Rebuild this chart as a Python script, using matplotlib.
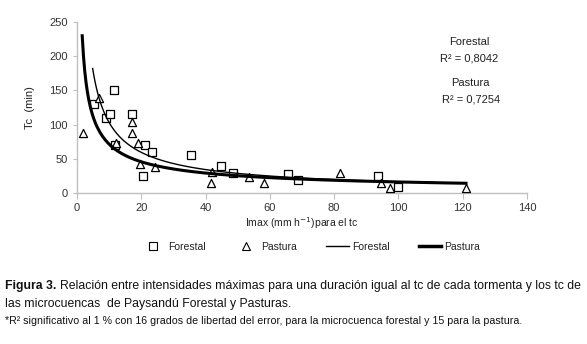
import matplotlib
matplotlib.use("Agg")
import matplotlib.pyplot as plt
from matplotlib import font_manager
from matplotlib.lines import Line2D
import numpy as np

# --- data -------------------------------------------------------------
forestal_imax = [5.3, 9.2, 10.3, 11.6, 12.0, 17.1, 21.3, 23.5, 20.6, 35.6,
                 44.7, 48.6, 65.5, 68.6, 93.5, 99.8]
forestal_tc = [130, 110, 115, 150, 70, 115, 70, 60, 25, 55,
               39, 29, 28, 19, 25, 9]

pastura_imax = [1.8, 6.9, 12.1, 17.1, 17.0, 19.0, 19.6, 24.4, 41.9, 41.6,
                53.6, 58.3, 81.8, 94.6, 97.4, 121.0]
pastura_tc = [88, 139, 73, 104, 88, 73, 42, 38, 31, 14,
              24, 14, 29, 14, 8, 8]

# power trend lines  tc = a * Imax ** b
forestal_fit = (645.0, -0.796)
pastura_fit = (318.0, -0.648)
forestal_range = (4.9, 121.0)
pastura_range = (1.65, 121.0)

r2_forestal = "0,8042"
r2_pastura = "0,7254"

x_ticks = [0, 20, 40, 60, 80, 100, 120, 140]
y_ticks = [0, 50, 100, 150, 200, 250]

caption_bold = "Figura 3."
caption_line1 = "Relación entre intensidades máximas para una duración igual al tc de cada tormenta y los tc de"
caption_line2 = "las microcuencas  de Paysandú Forestal y Pasturas."
footnote = ("*R² significativo al 1 % con 16 grados de libertad del error, "
            "para la microcuenca forestal y 15 para la pastura.")

# --- fonts ------------------------------------------------------------
installed = {f.name for f in font_manager.fontManager.ttflist}
narrow = "Liberation Sans Narrow" if "Liberation Sans Narrow" in installed else "Liberation Sans"
plt.rcParams["font.family"] = [narrow, "DejaVu Sans"]

fig = plt.figure(figsize=(5.87, 3.44), dpi=100)
ax = fig.add_axes([0.131, 0.439, 0.767, 0.497])

grey = "#bfbfbf"
ax.scatter(forestal_imax, forestal_tc, marker="s", s=38, facecolors="white",
           edgecolors="black", linewidths=0.9, zorder=3)
ax.scatter(pastura_imax, pastura_tc, marker="^", s=34, facecolors="white",
           edgecolors="black", linewidths=0.9, zorder=3)

xf = np.linspace(*forestal_range, 300)
xp = np.linspace(*pastura_range, 300)
ax.plot(xf, forestal_fit[0] * xf ** forestal_fit[1], color="black", lw=1.0, zorder=4)
ax.plot(xp, pastura_fit[0] * xp ** pastura_fit[1], color="black", lw=2.2, zorder=4)

ax.set_xlim(0, 140)
ax.set_ylim(0, 250)
ax.set_xticks(x_ticks)
ax.set_yticks(y_ticks)
for s in ("top", "right"):
    ax.spines[s].set_visible(False)
for s in ("left", "bottom"):
    ax.spines[s].set_color(grey)
    ax.spines[s].set_linewidth(1.0)
ax.tick_params(axis="both", colors=grey, labelcolor="#333333", labelsize=8,
               length=4, direction="out")
ax.tick_params(axis="y", length=3)

ax.set_xlabel("Imax (mm h$^{-1}$)para el tc", fontsize=7.5, color="#222222", labelpad=1)
ax.set_ylabel("Tc  (min)", fontsize=8, color="#222222", labelpad=10)

# R² annotations
ax.text(0.872, 0.883, "Forestal", transform=ax.transAxes, ha="center", va="center",
        fontsize=8, color="#222222")
ax.text(0.872, 0.785, "R² = " + r2_forestal, transform=ax.transAxes, ha="center",
        va="center", fontsize=8, color="#222222")
ax.text(0.874, 0.643, "Pastura", transform=ax.transAxes, ha="center", va="center",
        fontsize=8, color="#222222")
ax.text(0.876, 0.545, "R² = " + r2_pastura, transform=ax.transAxes, ha="center",
        va="center", fontsize=8, color="#222222")

handles = [
    Line2D([], [], ls="none", marker="s", ms=5.5, mfc="white", mec="black", mew=0.8),
    Line2D([], [], ls="none", marker="^", ms=5.5, mfc="white", mec="black", mew=0.8),
    Line2D([], [], color="black", lw=1.0),
    Line2D([], [], color="black", lw=2.5),
]
fig.legend(handles, ["Forestal", "Pastura", "Forestal", "Pastura"], ncol=4,
           loc="center", bbox_to_anchor=(0.53, 0.282), frameon=False, fontsize=7.5,
           handlelength=2.2, handletextpad=0.3, columnspacing=2.8,
           labelcolor="#222222")

# caption, sized so each line fills its measured width
fig.canvas.draw()
renderer = fig.canvas.get_renderer()
W = fig.bbox.width
left = 5 / W


def text_width(t):
    return t.get_window_extent(renderer).width


base = 10.0
y1, y2, y3 = 0.160, 0.108, 0.058
t_bold = fig.text(left, y1, caption_bold, fontsize=base, fontweight="bold",
                  color="#111111", va="baseline")
t_rest = fig.text(left, y1, caption_line1, fontsize=base, color="#111111",
                  va="baseline")
gap = 4
total = text_width(t_bold) + gap + text_width(t_rest)
size1 = base * 577 / total
t_bold.set_fontsize(size1)
t_rest.set_fontsize(size1)
fig.canvas.draw()
t_rest.set_x((t_bold.get_window_extent(renderer).x1 + gap) / W)

fig.text(left, y2, caption_line2, fontsize=size1, color="#111111", va="baseline")

t_foot = fig.text(left, y3, footnote, fontsize=6.0, color="#111111", va="baseline")
t_foot.set_fontsize(6.0 * 520 / text_width(t_foot))

fig.savefig("out.png", dpi=100)
